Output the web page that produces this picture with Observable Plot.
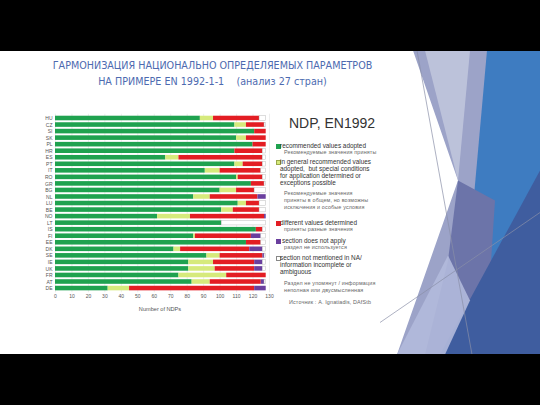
<!DOCTYPE html>
<html>
<head>
<meta charset="utf-8">
<script src="https://cdn.jsdelivr.net/npm/d3@7"></script>
<script src="https://cdn.jsdelivr.net/npm/@observablehq/plot@0.6"></script>
<style>
  html, body { margin: 0; padding: 0; }
  body { width: 540px; height: 405px; background: #000; position: relative; overflow: hidden; font-family: "Liberation Sans", Arial, sans-serif; }
  #slide { position: absolute; left: 0; top: 50.6px; width: 540px; height: 303.8px; background: #fff; overflow: hidden; }
  #deco { position: absolute; left: 0; top: 0; }
  .title { position: absolute; left: 0; width: 425px; text-align: center; color: #4d6ab0; font-family: "DejaVu Sans", sans-serif; font-size: 9.6px; white-space: pre; }
  #chart { position: absolute; left: 20px; top: 54.4px; }
  .lg { position: absolute; font-family: "Liberation Sans", Arial, sans-serif; white-space: pre; }
  .en { font-size: 6.4px; color: #333; line-height: 7px; }
  .ru { font-size: 5.4px; color: #666; line-height: 7px; letter-spacing: 0.15px; }
  .sq { position: absolute; width: 3px; height: 3px; }
  #xlabel { position: absolute; left: 110px; top: 255px; width: 100px; text-align: center; font-size: 5.6px; color: #555; }
</style>
</head>
<body>
<div id="slide">
  <svg id="deco" width="540" height="304" viewBox="0 50.6 540 303.8">
    <polygon points="413,50 540,50 540,354 397,354 458,180" fill="#9ca3c8"/>
    <polygon points="425,50 470,50 458,180" fill="#c4c9df" opacity="0.8"/>
    <polygon points="487,50 540,50 540,354 492,354 470,240" fill="#3e7cc1"/>
    <polygon points="458,180 495,200 485,354 425,354 448,260" fill="#6c74a9"/>
    <polygon points="540,170 540,354 440,354" fill="#3f5d9f"/>
    <polygon points="448,255 470,300 445,354 397,354" fill="#b3badb" opacity="0.9"/>
    <line x1="417" y1="50" x2="472" y2="354" stroke="#8a8fa8" stroke-width="0.7"/>
    <line x1="380" y1="322" x2="540" y2="212" stroke="#8a8fa8" stroke-width="0.7"/>
  </svg>
  <div class="title" style="top:9.5px">ГАРМОНИЗАЦИЯ НАЦИОНАЛЬНО ОПРЕДЕЛЯЕМЫХ ПАРАМЕТРОВ</div>
  <div class="title" style="top:25px">НА ПРИМЕРЕ EN 1992-1-1    (анализ 27 стран)</div>
  <div id="chart"></div>
  <div id="xlabel">Number of NDPs</div>
  <div id="legend"></div>
</div>
<script>
const countries = ["HU","CZ","SI","SK","PL","HR","ES","PT","IT","RO","GR","BG","NL","LU","BE","NO","LT","IS","FI","EE","DK","SE","IE","UK","FR","AT","DE"];
const adopted        = [88,109,121,110,120,109,67,109,91,110,119,100,84,111,101,62,101,122,84,116,72,92,81,81,75,83,32];
const generalAdopted = [8,7,0,6,0,0,8,5,9,1,0,10,10,5,7,20,0,0,1,0,4,8,15,16,29,11,13];
const different      = [28,11,7,12,8,17,51,12,25,15,8,11,29,8,16,45,0,4,34,9,42,26,25,24,24,31,76];
const notApply       = [0,0,0,0,0,0,0,0,0,0,0,0,5,0,0,1,0,0,6,0,8,1,5,5,0,2,7];
const notMentioned   = [4,1,0,0,0,2,2,2,3,2,1,7,0,4,4,0,27,2,3,3,2,1,2,2,0,1,0];
const categories = ["adopted","general","different","notApply","notMentioned"];
const catColors = ["#1fa24f","#d6ea7c","#e31d23","#6a3f9e","#ffffff"];
const xTicks = [0,10,20,30,40,50,60,70,80,90,100,110,120,130];

const series = [adopted, generalAdopted, different, notApply, notMentioned];
const rows = [];
countries.forEach((c, i) => {
  series.forEach((s, k) => {
    if (s[i] > 0) rows.push({country: c, cat: categories[k], value: s[i]});
  });
});

const chart = Plot.plot({
  width: 255,
  height: 215,
  marginLeft: 35,
  marginRight: 6,
  marginTop: 8.75,
  marginBottom: 27.7,
  style: {fontSize: "5px", fontFamily: "Liberation Sans, Arial, sans-serif", color: "#555", background: "transparent"},
  x: {domain: [0, 130], ticks: xTicks, tickSize: 0, tickPadding: 2, label: null, tickFormat: d => String(d)},
  y: {domain: countries, padding: 0.3, round: false, label: null, tickSize: 0, tickPadding: 3},
  color: {domain: categories, range: catColors},
  marks: [
    Plot.ruleX(xTicks, {stroke: "#e2e2e2", strokeWidth: 0.6}),
    Plot.barX(rows, Plot.stackX({
      x: "value", y: "country", fill: "cat", order: categories,
      stroke: d => d.cat === "notMentioned" ? "#bcbcbc" : "none",
      strokeWidth: 0.5
    }))
  ]
});
document.getElementById("chart").appendChild(chart);

// legend
const lg = document.getElementById("legend");
function add(text, cls, x, y) {
  const d = document.createElement("div");
  d.className = "lg " + cls;
  d.style.left = x + "px"; d.style.top = y + "px";
  d.textContent = text;
  lg.appendChild(d);
}
function sq(color, x, y, stroke) {
  const d = document.createElement("div");
  d.className = "sq";
  d.style.left = x + "px"; d.style.top = y + "px";
  d.style.background = color;
  d.style.border = "0.5px solid " + (stroke || color);
  lg.appendChild(d);
}
const oy = -50.6;
const h = document.createElement("div");
h.className = "lg";
h.style.left = "289px"; h.style.top = (115.5 + oy) + "px";
h.style.fontSize = "14px"; h.style.color = "#333";
h.textContent = "NDP, EN1992";
lg.appendChild(h);

sq(catColors[0], 276, 144 + oy);
add("recommended values adopted", "en", 280, 142.5 + oy);
add("Рекомендуемые значения приняты", "ru", 284, 149.5 + oy);

sq(catColors[1], 276, 160 + oy, "#9aa84a");
add("in general recommended values\nadopted,  but special conditions\nfor application determined or\nexceptions possible", "en", 280, 158.5 + oy);
add("Рекомендуемые значения\nприняты в общем, но возможны\nисключения и особые условия", "ru", 284, 190 + oy);

sq(catColors[2], 276, 221 + oy);
add("different values determined", "en", 280, 219.5 + oy);
add("приняты разные значения", "ru", 284, 226.5 + oy);

sq(catColors[3], 276, 239 + oy);
add("section does not apply", "en", 282, 237.5 + oy);
add("раздел не используется", "ru", 284, 244.5 + oy);

sq("#ffffff", 276, 256 + oy, "#888");
add("section not mentioned in NA/\ninformation incomplete or\nambiguous", "en", 280, 254.5 + oy);
add("Раздел не упомянут / информация\nнеполная или двусмысленная", "ru", 284, 280.5 + oy);
add("Источник : A. Ignatiadis, DAfStb", "ru", 289, 299 + oy);
</script>
</body>
</html>
